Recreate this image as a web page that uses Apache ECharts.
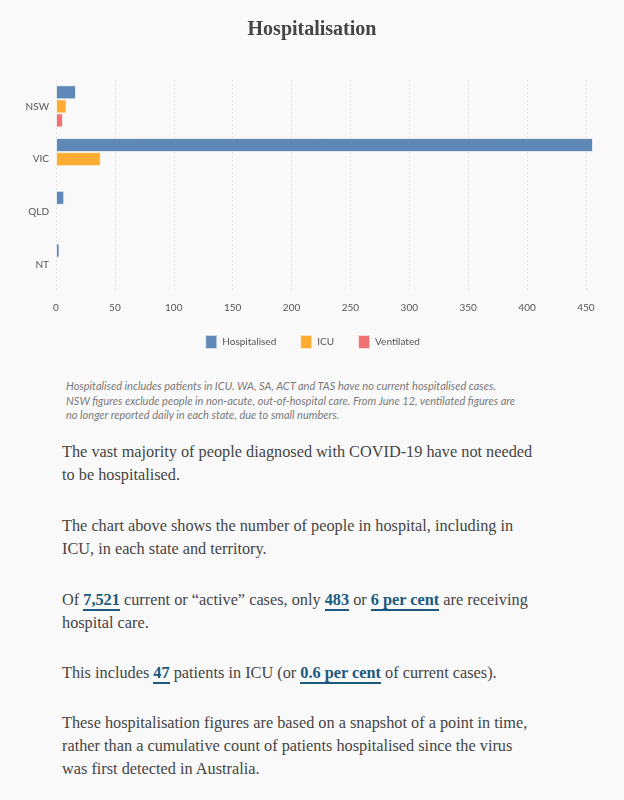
<!DOCTYPE html>
<html>
<head>
<meta charset="utf-8">
<script src="https://cdn.jsdelivr.net/npm/echarts@6/dist/echarts.min.js"></script>
<style>
  html, body { margin: 0; padding: 0; background: #f9f9f9; }
  body { width: 624px; height: 800px; position: relative; overflow: hidden; }
  #chart { position: absolute; left: 0; top: 0; width: 624px; height: 370px; }
  .note { position: absolute; left: 66px; top: 379px; font-family: Lato, "Open Sans", sans-serif; font-style: italic;
          font-size: 11px; line-height: 14.7px; color: #7a7a7a; white-space: nowrap; }
  .p { position: absolute; left: 62px; font-family: "Liberation Serif", serif; font-size: 16.3px; line-height: 23px;
       color: #454545; white-space: nowrap; }
  .p a { color: #1b5a7e; font-weight: bold; text-decoration: none; border-bottom: 2px solid #1b5a7e; }
</style>
</head>
<body>
<div id="chart"></div>
<div class="note">Hospitalised includes patients in ICU. WA, SA, ACT and TAS have no current hospitalised cases.<br>NSW figures exclude people in non-acute, out-of-hospital care. From June 12, ventilated figures are<br>no longer reported daily in each state, due to small numbers.</div>
<div class="p" style="top:440px">The vast majority of people diagnosed with COVID-19 have not needed<br>to be hospitalised.</div>
<div class="p" style="top:514px">The chart above shows the number of people in hospital, including in<br>ICU, in each state and territory.</div>
<div class="p" style="top:588px">Of <a>7,521</a> current or “active” cases, only <a>483</a> or <a>6 per cent</a> are receiving<br>hospital care.</div>
<div class="p" style="top:661px">This includes <a>47</a> patients in ICU (or <a>0.6 per cent</a> of current cases).</div>
<div class="p" style="top:711px">These hospitalisation figures are based on a snapshot of a point in time,<br>rather than a cumulative count of patients hospitalised since the virus<br>was first detected in Australia.</div>
<script>
const categories = ['NSW', 'VIC', 'QLD', 'NT'];
const hospitalised = [17, 456, 7, 3];
const icu = [9, 38, null, null];
const ventilated = [6, null, null, null];
const seriesNames = ['Hospitalised', 'ICU', 'Ventilated'];
const colors = ['#6088b6', '#fdab32', '#f07171'];
const xTicks = { min: 0, max: 456, interval: 50 };

const chart = echarts.init(document.getElementById('chart'));
const barStyle = (c) => ({ color: c, borderColor: 'rgba(255,255,255,0.7)', borderWidth: 1 });
chart.setOption({
  backgroundColor: '#f9f9f9',
  animation: false,
  title: {
    text: 'Hospitalisation', left: 'center', top: 15,
    textStyle: { fontFamily: 'Liberation Serif', fontSize: 20, fontWeight: 'bold', color: '#454545' }
  },
  grid: { left: 56, right: 31, top: 80, height: 211 },
  xAxis: {
    type: 'value', min: xTicks.min, max: xTicks.max, interval: xTicks.interval,
    axisLine: { show: false }, axisTick: { show: false },
    axisLabel: { color: '#555', fontSize: 10, fontFamily: 'Lato', margin: 12, showMaxLabel: false },
    splitLine: { show: true, showMaxLine: false, lineStyle: { color: '#e4e4e4', type: [2, 2] } }
  },
  yAxis: {
    type: 'category', data: categories, inverse: true,
    axisLine: { show: false }, axisTick: { show: false },
    axisLabel: { color: '#555', fontSize: 10, fontFamily: 'Lato', margin: 7 }
  },
  legend: {
    bottom: 15, left: 'center', itemWidth: 12, itemHeight: 14, itemGap: 23, icon: 'rect',
    textStyle: { color: '#555', fontSize: 10, fontFamily: 'Lato' },
    data: seriesNames
  },
  series: [
    { name: seriesNames[0], type: 'bar', data: hospitalised, itemStyle: barStyle(colors[0]), barGap: '0%', barCategoryGap: '20%' },
    { name: seriesNames[1], type: 'bar', data: icu, itemStyle: barStyle(colors[1]) },
    { name: seriesNames[2], type: 'bar', data: ventilated, itemStyle: barStyle(colors[2]) }
  ]
});
</script>
</body>
</html>
